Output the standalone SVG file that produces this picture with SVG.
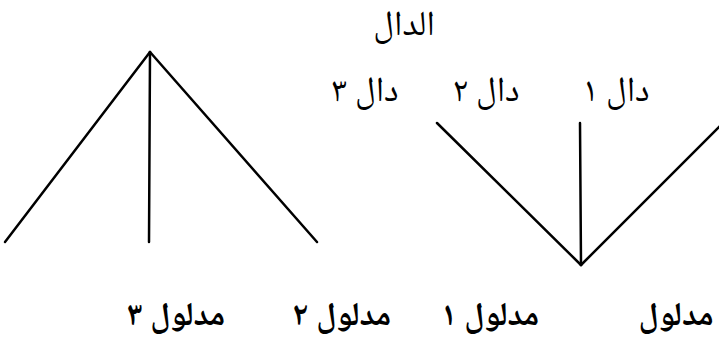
<svg xmlns="http://www.w3.org/2000/svg" width="719" height="345" viewBox="0 0 719 345">
<style>
.lbl{font-family:"Noto Naskh Arabic","Noto Sans Arabic","DejaVu Sans",sans-serif;fill:#000;text-anchor:middle;direction:rtl}
.top{font-size:35px}
.bot{font-size:33px;font-weight:bold}
.ln{stroke:#000;stroke-width:2.5;fill:none;stroke-linecap:round}
</style>
<rect width="719" height="345" fill="#fff"/>
<g id="connectors">
<line class="ln" x1="150" y1="52" x2="5" y2="242"/>
<line class="ln" x1="150" y1="52" x2="149" y2="242"/>
<line class="ln" x1="150" y1="52" x2="317" y2="242"/>
<line class="ln" x1="437" y1="123" x2="581" y2="265"/>
<line class="ln" x1="580" y1="123" x2="581" y2="265"/>
<line class="ln" x1="720" y1="126" x2="581" y2="265"/>
</g>
<g id="n-signifier"><text class="lbl top" x="404" y="35">الدال</text></g>
<g id="n-sig3"><text class="lbl top" x="365" y="101">دال ٣</text></g>
<g id="n-sig2"><text class="lbl top" x="486" y="101">دال ٢</text></g>
<g id="n-sig1"><text class="lbl top" x="616" y="101">دال ١</text></g>
<g id="n-sd3"><text class="lbl bot" x="176" y="325">مدلول ٣</text></g>
<g id="n-sd2"><text class="lbl bot" x="342" y="325">مدلول ٢</text></g>
<g id="n-sd1"><text class="lbl bot" x="490" y="325">مدلول ١</text></g>
<g id="n-sd"><text class="lbl bot" x="676" y="325">مدلول</text></g>
</svg>
